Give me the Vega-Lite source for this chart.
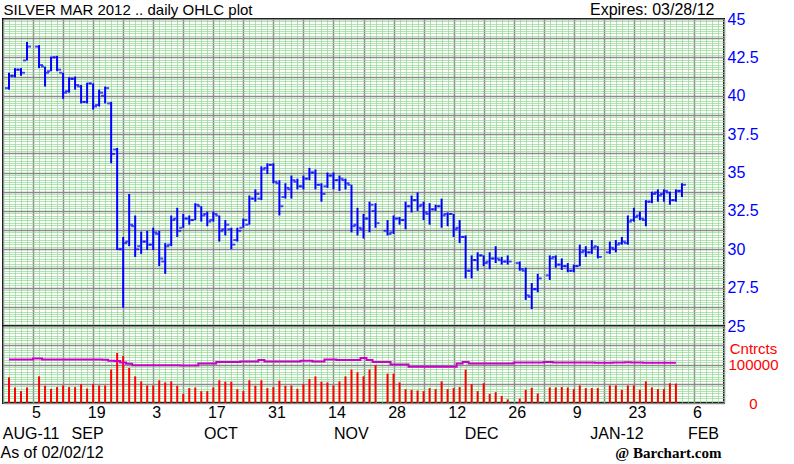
{
  "$schema": "https://vega.github.io/schema/vega-lite/v6.json",
  "background": "white",
  "autosize": {"type": "none"},
  "padding": {"left": 3, "right": 791, "top": 19, "bottom": 445},
  "bounds": "flush",
  "spacing": 0,
  "config": {
    "view": {"stroke": "black", "strokeWidth": 2},
    "axis": {"labelFont": "Liberation Sans", "titleFont": "Liberation Sans", "titleFontWeight": "normal", "titleColor": "black", "ticks": false, "domain": false, "minExtent": 0}
  },
  "data": {"values": [
    {"n":1,"o":40.5,"h":41.5,"l":40.4,"c":41.3,"v":66600,"oi":113000},
    {"n":2,"o":41.3,"h":41.8,"l":41.2,"c":41.7,"v":40300,"oi":113000},
    {"n":3,"o":41.7,"h":41.8,"l":41.3,"c":41.5,"v":30800,"oi":113000},
    {"n":4,"o":42.3,"h":43.5,"l":42.3,"c":43.2,"v":40300,"oi":113000},
    {"n":6,"o":43.2,"h":43.3,"l":41.8,"c":42.0,"v":69200,"oi":115500},
    {"n":7,"o":41.9,"h":41.9,"l":40.6,"c":41.5,"v":44700,"oi":113000},
    {"n":8,"o":41.6,"h":42.55,"l":41.6,"c":42.5,"v":36800,"oi":113000},
    {"n":9,"o":42.5,"h":42.6,"l":41.6,"c":41.7,"v":41300,"oi":113000},
    {"n":10,"o":41.5,"h":41.5,"l":39.8,"c":40.2,"v":45500,"oi":113000},
    {"n":11,"o":40.3,"h":41.2,"l":40.2,"c":41.1,"v":41300,"oi":113000},
    {"n":12,"o":41.1,"h":41.25,"l":40.4,"c":40.7,"v":41300,"oi":113000},
    {"n":13,"o":40.6,"h":40.7,"l":39.5,"c":39.6,"v":49000,"oi":113000},
    {"n":14,"o":39.6,"h":40.85,"l":39.5,"c":40.8,"v":37600,"oi":113000},
    {"n":15,"o":40.8,"h":40.8,"l":39.1,"c":39.3,"v":49000,"oi":113000},
    {"n":16,"o":39.4,"h":40.4,"l":39.3,"c":40.2,"v":45500,"oi":113000},
    {"n":17,"o":40.0,"h":40.6,"l":39.5,"c":40.5,"v":45500,"oi":112500},
    {"n":18,"o":39.5,"h":39.6,"l":35.6,"c":36.2,"v":86800,"oi":110000},
    {"n":19,"o":36.5,"h":36.6,"l":29.95,"c":30.0,"v":129800,"oi":109000},
    {"n":20,"o":30.0,"h":30.8,"l":26.2,"c":30.4,"v":121900,"oi":105000},
    {"n":21,"o":30.5,"h":33.6,"l":30.2,"c":31.6,"v":91200,"oi":102000},
    {"n":22,"o":31.5,"h":32.2,"l":29.5,"c":30.0,"v":69200,"oi":98000},
    {"n":23,"o":30.2,"h":31.15,"l":29.7,"c":30.5,"v":56100,"oi":98000},
    {"n":24,"o":30.5,"h":31.2,"l":29.95,"c":30.3,"v":45500,"oi":98000},
    {"n":25,"o":30.3,"h":31.4,"l":29.95,"c":31.1,"v":45500,"oi":98000},
    {"n":26,"o":31.0,"h":31.2,"l":28.9,"c":29.4,"v":58900,"oi":98000},
    {"n":27,"o":29.2,"h":30.4,"l":28.4,"c":30.2,"v":53500,"oi":98000},
    {"n":28,"o":30.3,"h":32.2,"l":30.2,"c":31.9,"v":56100,"oi":98000},
    {"n":29,"o":32.0,"h":32.7,"l":30.8,"c":31.2,"v":44700,"oi":98000},
    {"n":30,"o":31.4,"h":32.3,"l":31.4,"c":32.0,"v":23700,"oi":97400},
    {"n":31,"o":32.0,"h":32.2,"l":31.6,"c":31.9,"v":38600,"oi":97400},
    {"n":32,"o":31.9,"h":33.0,"l":31.9,"c":32.9,"v":40300,"oi":97400},
    {"n":33,"o":32.8,"h":32.8,"l":31.8,"c":32.2,"v":30800,"oi":102600},
    {"n":34,"o":32.3,"h":32.45,"l":31.5,"c":31.8,"v":30800,"oi":102600},
    {"n":35,"o":31.9,"h":32.45,"l":31.8,"c":32.3,"v":40300,"oi":102600},
    {"n":36,"o":32.2,"h":32.2,"l":30.5,"c":31.2,"v":58900,"oi":106200},
    {"n":37,"o":31.3,"h":31.9,"l":30.9,"c":31.6,"v":55200,"oi":106200},
    {"n":38,"o":31.3,"h":31.4,"l":30.0,"c":30.3,"v":55200,"oi":106200},
    {"n":39,"o":30.6,"h":31.4,"l":30.5,"c":31.2,"v":36000,"oi":106200},
    {"n":40,"o":31.4,"h":32.0,"l":31.4,"c":31.9,"v":30800,"oi":107900},
    {"n":41,"o":31.6,"h":33.5,"l":31.6,"c":33.3,"v":58900,"oi":107900},
    {"n":42,"o":33.3,"h":33.9,"l":33.1,"c":33.6,"v":44700,"oi":107900},
    {"n":43,"o":33.3,"h":35.4,"l":33.2,"c":35.2,"v":58900,"oi":111400},
    {"n":44,"o":35.3,"h":35.6,"l":34.9,"c":35.5,"v":38600,"oi":107900},
    {"n":45,"o":35.5,"h":35.6,"l":34.3,"c":34.4,"v":41300,"oi":107900},
    {"n":46,"o":34.3,"h":34.5,"l":32.2,"c":32.8,"v":57700,"oi":107900},
    {"n":47,"o":33.4,"h":34.3,"l":33.3,"c":34.0,"v":44700,"oi":107900},
    {"n":48,"o":33.9,"h":34.8,"l":33.3,"c":34.5,"v":45500,"oi":107900},
    {"n":49,"o":34.4,"h":34.6,"l":33.9,"c":34.1,"v":36800,"oi":107900},
    {"n":50,"o":34.1,"h":34.8,"l":33.9,"c":34.6,"v":49000,"oi":110000},
    {"n":51,"o":34.6,"h":35.3,"l":34.5,"c":35.0,"v":62300,"oi":110000},
    {"n":52,"o":35.0,"h":35.2,"l":33.9,"c":34.2,"v":69200,"oi":107900},
    {"n":53,"o":34.2,"h":34.3,"l":33.1,"c":33.6,"v":55200,"oi":107900},
    {"n":54,"o":34.1,"h":35.0,"l":34.0,"c":34.8,"v":53500,"oi":113200},
    {"n":55,"o":34.8,"h":35.0,"l":33.9,"c":34.5,"v":45500,"oi":113200},
    {"n":56,"o":34.5,"h":34.8,"l":33.8,"c":34.6,"v":56100,"oi":111400},
    {"n":57,"o":34.5,"h":34.6,"l":33.9,"c":34.3,"v":69200,"oi":111400},
    {"n":58,"o":34.2,"h":34.2,"l":31.1,"c":31.5,"v":86800,"oi":111400},
    {"n":59,"o":31.6,"h":32.7,"l":30.9,"c":31.4,"v":79800,"oi":112000},
    {"n":60,"o":31.3,"h":32.3,"l":30.7,"c":32.0,"v":69200,"oi":116700},
    {"n":61,"o":32.0,"h":33.1,"l":31.1,"c":32.9,"v":86800,"oi":111400},
    {"n":62,"o":32.5,"h":33.0,"l":31.4,"c":31.7,"v":98200,"oi":106200},
    {"n":64,"o":31.2,"h":31.9,"l":30.9,"c":31.0,"v":76300,"oi":106200},
    {"n":65,"o":31.1,"h":32.2,"l":31.0,"c":32.0,"v":76300,"oi":100000},
    {"n":66,"o":32.0,"h":32.1,"l":31.6,"c":31.9,"v":53500,"oi":100000},
    {"n":67,"o":31.9,"h":33.1,"l":31.3,"c":32.8,"v":36000,"oi":100000},
    {"n":68,"o":32.8,"h":33.5,"l":32.4,"c":33.2,"v":34200,"oi":93900},
    {"n":69,"o":33.2,"h":33.7,"l":32.5,"c":32.8,"v":32500,"oi":93900},
    {"n":70,"o":32.9,"h":33.1,"l":31.9,"c":32.4,"v":30800,"oi":93900},
    {"n":71,"o":32.3,"h":33.0,"l":31.6,"c":32.6,"v":38600,"oi":93900},
    {"n":72,"o":32.6,"h":32.9,"l":32.5,"c":32.8,"v":36000,"oi":93900},
    {"n":73,"o":32.8,"h":33.3,"l":31.4,"c":32.2,"v":56100,"oi":93900},
    {"n":74,"o":32.3,"h":32.4,"l":31.5,"c":32.3,"v":36000,"oi":93900},
    {"n":75,"o":32.3,"h":32.3,"l":30.8,"c":31.3,"v":38600,"oi":93900},
    {"n":76,"o":31.4,"h":31.9,"l":30.4,"c":30.8,"v":41300,"oi":102600},
    {"n":77,"o":30.8,"h":30.9,"l":28.1,"c":28.6,"v":86800,"oi":106200},
    {"n":78,"o":28.6,"h":29.6,"l":28.1,"c":29.3,"v":49000,"oi":102600},
    {"n":79,"o":29.3,"h":29.8,"l":28.6,"c":29.6,"v":30800,"oi":102600},
    {"n":80,"o":29.6,"h":29.6,"l":28.9,"c":29.1,"v":51300,"oi":102600},
    {"n":81,"o":29.2,"h":29.8,"l":28.7,"c":29.4,"v":23700,"oi":102600},
    {"n":82,"o":29.4,"h":30.2,"l":29.1,"c":29.4,"v":28100,"oi":102600},
    {"n":83,"o":29.3,"h":29.5,"l":29.0,"c":29.2,"v":18400,"oi":102600},
    {"n":84,"o":29.2,"h":29.6,"l":29.0,"c":29.2,"v":9600,"oi":102600},
    {"n":86,"o":29.1,"h":29.2,"l":28.6,"c":28.7,"v":11400,"oi":105000},
    {"n":87,"o":28.6,"h":28.8,"l":26.7,"c":27.0,"v":34200,"oi":105000},
    {"n":88,"o":26.9,"h":27.8,"l":26.1,"c":27.4,"v":39500,"oi":105000},
    {"n":89,"o":27.4,"h":28.4,"l":27.2,"c":28.1,"v":24600,"oi":105000},
    {"n":91,"o":28.3,"h":29.6,"l":28.0,"c":29.4,"v":40300,"oi":106200},
    {"n":92,"o":29.5,"h":29.6,"l":28.8,"c":29.0,"v":40300,"oi":105000},
    {"n":93,"o":29.0,"h":29.4,"l":28.65,"c":28.9,"v":41300,"oi":105000},
    {"n":94,"o":28.9,"h":29.1,"l":28.5,"c":28.6,"v":40300,"oi":105000},
    {"n":95,"o":28.6,"h":29.0,"l":28.5,"c":28.9,"v":36000,"oi":105000},
    {"n":96,"o":28.9,"h":30.3,"l":28.9,"c":29.8,"v":45500,"oi":105000},
    {"n":97,"o":29.9,"h":30.2,"l":29.5,"c":29.8,"v":38600,"oi":105000},
    {"n":98,"o":29.8,"h":30.6,"l":29.7,"c":30.1,"v":38600,"oi":105000},
    {"n":99,"o":30.2,"h":30.2,"l":29.4,"c":29.5,"v":38600,"oi":104400},
    {"n":101,"o":29.8,"h":30.5,"l":29.7,"c":30.1,"v":45500,"oi":104400},
    {"n":102,"o":30.0,"h":30.6,"l":29.8,"c":30.3,"v":45500,"oi":105000},
    {"n":103,"o":30.4,"h":30.8,"l":30.3,"c":30.5,"v":34200,"oi":105000},
    {"n":104,"o":30.4,"h":32.2,"l":30.3,"c":31.8,"v":45500,"oi":105900},
    {"n":105,"o":31.9,"h":32.7,"l":31.8,"c":32.1,"v":45500,"oi":105000},
    {"n":106,"o":32.2,"h":32.45,"l":31.9,"c":32.0,"v":34200,"oi":105000},
    {"n":107,"o":31.9,"h":33.2,"l":31.5,"c":33.1,"v":56100,"oi":104400},
    {"n":108,"o":33.1,"h":33.75,"l":33.0,"c":33.6,"v":40300,"oi":104400},
    {"n":109,"o":33.7,"h":33.9,"l":33.1,"c":33.5,"v":36000,"oi":104400},
    {"n":110,"o":33.6,"h":33.9,"l":33.1,"c":33.8,"v":36000,"oi":104400},
    {"n":111,"o":33.7,"h":33.75,"l":32.9,"c":33.2,"v":51300,"oi":104400},
    {"n":112,"o":33.2,"h":33.9,"l":33.1,"c":33.8,"v":50400,"oi":104400},
    {"n":113,"o":33.8,"h":34.3,"l":33.4,"c":34.2,"v":null,"oi":null}
  ]},
  "vconcat": [
    {
      "width": 721,
      "height": 307,
      "resolve": {"axis": {"x": "independent", "y": "independent"}},
      "layer": [
        {
          "mark": {"type": "rule", "color": "#0000ff", "strokeWidth": 2},
          "encoding": {
            "x": {"field": "n", "type": "quantitative", "scale": {"domain": [0, 120], "nice": false, "zero": false},
              "axis": {"orient": "bottom", "title": null, "labels": false, "grid": true, "gridColor": "#8fd88f", "gridOpacity": 0.7, "gridWidth": 1,
                "values": [1,2,3,4,6,7,8,9,11,12,13,14,16,17,18,19,21,22,23,24,26,27,28,29,31,32,33,34,36,37,38,39,41,42,43,44,46,47,48,49,51,52,53,54,56,57,58,59,61,62,63,64,66,67,68,69,71,72,73,74,76,77,78,79,81,82,83,84,86,87,88,89,91,92,93,94,96,97,98,99,101,102,103,104,106,107,108,109,111,112,113,114,116,117,118,119]}},
            "y": {"field": "l", "type": "quantitative", "scale": {"domain": [25, 45], "nice": false, "zero": false},
              "axis": {"orient": "right", "title": null, "labels": false, "grid": true, "gridColor": "#8fd88f", "gridOpacity": 0.7, "gridWidth": 1,
                "values": [25.15625,25.3125,25.46875,25.625,25.78125,25.9375,26.09375,26.40625,26.5625,26.71875,26.875,27.03125,27.1875,27.34375,27.65625,27.8125,27.96875,28.125,28.28125,28.4375,28.59375,28.90625,29.0625,29.21875,29.375,29.53125,29.6875,29.84375,30.15625,30.3125,30.46875,30.625,30.78125,30.9375,31.09375,31.40625,31.5625,31.71875,31.875,32.03125,32.1875,32.34375,32.65625,32.8125,32.96875,33.125,33.28125,33.4375,33.59375,33.90625,34.0625,34.21875,34.375,34.53125,34.6875,34.84375,35.15625,35.3125,35.46875,35.625,35.78125,35.9375,36.09375,36.40625,36.5625,36.71875,36.875,37.03125,37.1875,37.34375,37.65625,37.8125,37.96875,38.125,38.28125,38.4375,38.59375,38.90625,39.0625,39.21875,39.375,39.53125,39.6875,39.84375,40.15625,40.3125,40.46875,40.625,40.78125,40.9375,41.09375,41.40625,41.5625,41.71875,41.875,42.03125,42.1875,42.34375,42.65625,42.8125,42.96875,43.125,43.28125,43.4375,43.59375,43.90625,44.0625,44.21875,44.375,44.53125,44.6875,44.84375]}},
            "y2": {"field": "h"}
          }
        },
        {
          "mark": {"type": "tick", "orient": "horizontal", "color": "#0000ff", "size": 3, "thickness": 2, "xOffset": -2.5},
          "encoding": {
            "x": {"field": "n", "type": "quantitative", "scale": {"domain": [0, 120], "nice": false, "zero": false},
              "axis": {"orient": "top", "labels": false, "grid": true, "gridColor": "#8a8a8a", "gridWidth": 1.5,
                "values": [0,5,10,15,20,25,30,35,40,45,50,55,60,65,70,75,80,85,90,95,100,105,110,115,120],
                "title": "SILVER MAR 2012 .. daily OHLC plot", "titleAnchor": "start", "titleFontSize": 15, "titlePadding": 2}},
            "y": {"field": "o", "type": "quantitative", "scale": {"domain": [25, 45], "nice": false, "zero": false},
              "axis": {"orient": "right", "title": null, "grid": true, "gridColor": "#8a8a8a", "gridWidth": 1.5,
                "values": [25,26.25,27.5,28.75,30,31.25,32.5,33.75,35,36.25,37.5,38.75,40,41.25,42.5,43.75,45],
                "labelExpr": "datum.value % 2.5 == 0 ? '' + datum.value : ''",
                "labelColor": "#0000ff", "labelFontSize": 16, "labelPadding": 3, "labelAlign": "left", "labelBaseline": "middle", "labelOverlap": false, "labelFlush": false}}
          }
        },
        {
          "mark": {"type": "tick", "orient": "horizontal", "color": "#0000ff", "size": 3, "thickness": 2, "xOffset": 2.5},
          "encoding": {
            "x": {"field": "n", "type": "quantitative", "scale": {"domain": [0, 120], "nice": false, "zero": false},
              "axis": {"orient": "top", "labels": false, "grid": false, "values": [0],
                "title": "Expires: 03/28/12", "titleAnchor": "end", "titleAlign": "right", "titleX": 711, "titleFontSize": 16, "titlePadding": 2}},
            "y": {"field": "c", "type": "quantitative", "scale": {"domain": [25, 45], "nice": false, "zero": false}, "axis": null}
          }
        }
      ]
    },
    {
      "width": 721,
      "height": 77,
      "resolve": {"axis": {"x": "independent", "y": "independent"}},
      "layer": [
        {
          "mark": {"type": "rule", "color": "#ff0000", "strokeWidth": 2},
          "encoding": {
            "x": {"field": "n", "type": "quantitative", "scale": {"domain": [0, 120], "nice": false, "zero": false},
              "axis": {"orient": "bottom", "labels": false, "grid": true, "gridColor": "#8fd88f", "gridOpacity": 0.7, "gridWidth": 1,
                "values": [1,2,3,4,6,7,8,9,11,12,13,14,16,17,18,19,21,22,23,24,26,27,28,29,31,32,33,34,36,37,38,39,41,42,43,44,46,47,48,49,51,52,53,54,56,57,58,59,61,62,63,64,66,67,68,69,71,72,73,74,76,77,78,79,81,82,83,84,86,87,88,89,91,92,93,94,96,97,98,99,101,102,103,104,106,107,108,109,111,112,113,114,116,117,118,119],
                "title": "@ Barchart.com", "titleAnchor": "end", "titleAlign": "right", "titleX": 718, "titleFont": "Liberation Serif", "titleFontWeight": "bold", "titleFontSize": 15, "titlePadding": 42}},
            "y": {"field": "v", "type": "quantitative", "scale": {"domain": [0, 200000], "nice": false},
              "axis": {"orient": "right", "title": null, "labels": false, "grid": true, "gridColor": "#8fd88f", "gridOpacity": 0.7, "gridWidth": 1,
                "values": [6250,12500,18750,25000,31250,37500,43750,56250,62500,68750,75000,81250,87500,93750,106250,112500,118750,125000,131250,137500,143750,156250,162500,168750,175000,181250,187500,193750]}},
            "y2": {"datum": 0}
          }
        },
        {
          "mark": {"type": "line", "color": "#cc00cc", "strokeWidth": 2, "interpolate": "step"},
          "encoding": {
            "x": {"field": "n", "type": "quantitative", "scale": {"domain": [0, 120], "nice": false, "zero": false},
              "axis": {"orient": "bottom", "grid": true, "gridColor": "#8a8a8a", "gridWidth": 1.5,
                "gridOpacity": {"condition": {"test": "datum.value % 5 != 0", "value": 0}, "value": 1},
                "values": [0,5,10,15,20,25,30,35,40,45,50,55,60,65,70,75,80,85,90,95,100,105,110,115,120,4.1,13.5,35.7,57.4,79.1,101.6,116],
                "labelExpr": "indexof([4.1,13.5,35.7,57.4,79.1,101.6,116], datum.value) >= 0 ? ['', ['AUG-11','SEP','OCT','NOV','DEC','JAN-12','FEB'][indexof([4.1,13.5,35.7,57.4,79.1,101.6,116], datum.value)]] : (datum.value % 10 == 5 ? ['5','19','3','17','31','14','28','12','26','9','23','6'][(datum.value - 5) / 10] : '')",
                "labelOffset": 3, "labelPadding": 1, "labelBaseline": "top", "labelLineHeight": 21, "labelFontSize": 16, "labelColor": "black",
                "labelOverlap": false, "labelFlush": false, "labelBound": false,
                "title": "As of 02/02/12", "titleAnchor": "start", "titleAlign": "left", "titleX": -3, "titleFontSize": 16, "titlePadding": 3}},
            "y": {"field": "oi", "type": "quantitative", "scale": {"domain": [0, 200000], "nice": false},
              "axis": {"orient": "right", "title": null, "grid": true, "gridColor": "#8a8a8a", "gridWidth": 1.5,
                "gridOpacity": {"condition": {"test": "datum.value == 142000", "value": 0}, "value": 1},
                "values": [0, 50000, 100000, 142000, 150000, 200000], "format": "d",
                "labelExpr": "datum.value == 142000 ? 'Cntrcts' : ((datum.value == 0 || datum.value == 100000) ? datum.label : '')",
                "labelColor": "#ff0000", "labelFontSize": 15, "labelAlign": "center", "labelPadding": 29, "labelBaseline": "middle", "labelOverlap": false, "labelFlush": false}}
          }
        }
      ]
    }
  ]
}
